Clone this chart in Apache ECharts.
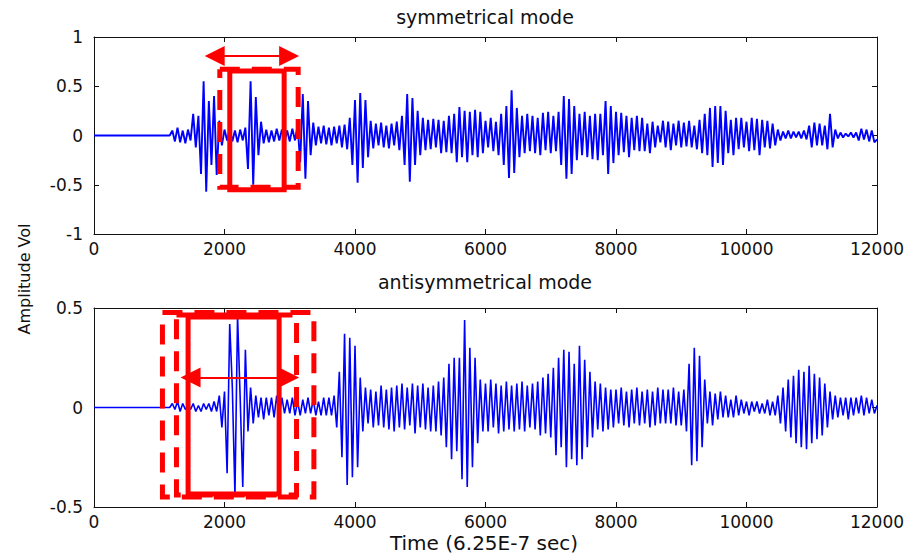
<!DOCTYPE html>
<html>
<head>
<meta charset="UTF-8">
<title>symmetrical / antisymmetrical mode</title>
<script src="https://cdn.jsdelivr.net/npm/echarts@6/dist/echarts.min.js"></script>
<style>
html, body { margin: 0; padding: 0; background: #fff; }
#main { width: 913px; height: 556px; }
</style>
</head>
<body>
<div id="main"></div>
<script>
// sampling of the read-off peaks: first value at t0, then one every dt samples
var t0 = 1160, dt = 40;
var xTicks = [0, 12000, 2000];

// symmetrical mode, peak values (10 per 400 samples from 1200)
var symVals = [0,
	0.05,-0.06,0.08,-0.07,0.05,-0.08,0.06,-0.05,0.22,-0.12,
	0.20,-0.39,0.55,-0.57,0.35,-0.30,0.40,-0.40,0.15,-0.10,
	0.06,-0.05,0.07,-0.06,0.05,-0.07,0.06,-0.05,0.08,-0.34,
	0.55,-0.50,0.39,-0.20,0.14,-0.08,0.06,-0.07,0.05,-0.06,
	0.07,-0.05,0.06,-0.07,0.05,-0.06,0.07,-0.05,0.10,-0.27,
	0.42,-0.44,0.35,-0.20,0.13,-0.10,0.09,-0.08,0.10,-0.09,
	0.08,-0.10,0.09,-0.08,0.10,-0.12,0.11,-0.14,0.18,-0.30,
	0.36,-0.48,0.43,-0.33,0.36,-0.22,0.15,-0.13,0.12,-0.10,
	0.13,-0.12,0.10,-0.13,0.12,-0.10,0.14,-0.15,0.20,-0.30,
	0.42,-0.47,0.38,-0.30,0.25,-0.20,0.18,-0.15,0.16,-0.14,
	0.17,-0.12,0.16,-0.18,0.15,-0.17,0.20,-0.18,0.22,-0.27,
	0.29,-0.22,0.25,-0.27,0.24,-0.20,0.26,-0.22,0.24,-0.18,
	0.15,-0.12,0.18,-0.16,0.14,-0.20,0.22,-0.30,0.30,-0.43,
	0.46,-0.38,0.28,-0.22,0.20,-0.18,0.22,-0.16,0.20,-0.18,
	0.18,-0.20,0.23,-0.15,0.24,-0.18,0.20,-0.16,0.24,-0.30,
	0.40,-0.44,0.37,-0.39,0.30,-0.25,0.22,-0.20,0.24,-0.22,
	0.20,-0.24,0.22,-0.25,0.22,-0.20,0.35,-0.39,0.30,-0.28,
	0.24,-0.20,0.23,-0.17,0.20,-0.22,0.18,-0.15,0.20,-0.16,
	0.18,-0.16,0.12,-0.18,0.14,-0.12,0.10,-0.07,0.15,-0.12,
	0.14,-0.15,0.12,-0.10,0.15,-0.12,0.13,-0.11,0.15,-0.12,
	0.10,-0.14,0.16,-0.18,0.22,-0.20,0.28,-0.32,0.30,-0.28,
	0.30,-0.30,0.25,-0.18,0.16,-0.20,0.18,-0.14,0.18,-0.12,
	0.14,-0.16,0.18,-0.15,0.17,-0.20,0.16,-0.12,0.15,-0.13,
	0.12,-0.10,0.06,-0.05,0.04,-0.03,0.05,-0.03,0.04,-0.02,
	0.04,-0.03,0.05,-0.04,0.10,-0.12,0.13,-0.10,0.12,-0.10,
	0.10,-0.14,0.22,-0.12,0.06,-0.03,0.03,-0.02,0.02,-0.01,
	0.03,-0.02,0.03,-0.05,0.07,-0.04,0.06,-0.06,0.05,-0.07,
	-0.04];

// antisymmetrical mode
var antiVals = [0,
	0.02,-0.01,0.03,-0.02,0.02,-0.01,0.01,-0.01,0.02,-0.02,
	0.01,-0.02,0.02,-0.01,0.02,-0.02,0.03,-0.02,0.06,-0.10,
	0.08,-0.33,0.42,0.10,-0.44,0.46,0.05,-0.40,0.29,-0.12,
	0.10,-0.08,0.06,-0.05,0.05,-0.06,0.05,-0.04,0.05,-0.05,
	0.06,-0.04,0.05,-0.03,0.04,-0.03,0.05,-0.04,0.03,-0.04,
	0.04,-0.03,0.05,-0.03,0.04,-0.04,0.03,-0.04,0.05,-0.04,
	0.05,-0.04,0.06,-0.10,0.18,-0.25,0.37,-0.39,0.35,-0.35,
	0.31,-0.30,0.15,-0.12,0.10,-0.08,0.09,-0.10,0.08,-0.09,
	0.11,-0.10,0.09,-0.11,0.10,-0.12,0.11,-0.10,0.12,-0.11,
	0.10,-0.09,0.12,-0.13,0.11,-0.10,0.12,-0.11,0.10,-0.12,
	0.11,-0.12,0.13,-0.14,0.15,-0.20,0.22,-0.26,0.25,-0.22,
	0.25,-0.36,0.44,-0.40,0.30,-0.30,0.25,-0.18,0.14,-0.12,
	0.12,-0.12,0.14,-0.10,0.12,-0.13,0.11,-0.12,0.13,-0.11,
	0.11,-0.12,0.12,-0.11,0.13,-0.12,0.11,-0.10,0.12,-0.11,
	0.13,-0.14,0.15,-0.13,0.17,-0.15,0.20,-0.24,0.25,-0.20,
	0.29,-0.30,0.28,-0.26,0.22,-0.29,0.31,-0.26,0.24,-0.20,
	0.18,-0.15,0.13,-0.11,0.12,-0.12,0.10,-0.11,0.09,-0.10,
	0.09,-0.08,0.10,-0.09,0.08,-0.10,0.09,-0.08,0.10,-0.09,
	0.08,-0.08,0.09,-0.10,0.08,-0.09,0.10,-0.08,0.09,-0.08,
	0.09,-0.08,0.10,-0.09,0.08,-0.09,0.09,-0.12,0.22,-0.29,
	0.30,-0.27,0.26,-0.20,0.14,-0.08,0.08,-0.09,0.07,-0.06,
	0.08,-0.05,0.06,-0.05,0.04,-0.05,0.06,-0.04,0.04,-0.03,
	0.03,-0.04,0.03,-0.02,0.03,-0.03,0.02,-0.03,0.04,-0.04,
	0.03,-0.04,0.06,-0.08,0.10,-0.12,0.14,-0.15,0.16,-0.18,
	0.19,-0.20,0.18,-0.21,0.21,-0.18,0.17,-0.16,0.15,-0.14,
	0.12,-0.10,0.08,-0.06,0.06,-0.05,0.05,-0.04,0.05,-0.06,
	0.05,-0.04,0.05,-0.03,0.06,-0.04,0.05,-0.03,0.04,-0.03,
	0.01];

// red annotations in data units: [xFrom, xTo, yTop, yBottom] / [xFrom, xTo, y]
var symBoxDashed = [1928, 3129, 0.672, -0.526];
var symBoxSolid = [2081, 2914, 0.654, -0.55];
var symArrow = [1850, 2990, 0.807];
var antiBoxDashedOuter = [1049, 3370, 0.477, -0.45];
var antiBoxDashedInner = [1264, 3104, 0.465, -0.44];
var antiBoxSolid = [1442, 2837, 0.455, -0.435];
var antiArrow = [1480, 2990, 0.151];

function toSeries(vals) {
	var out = [[0, 0]];
	for (var i = 0; i < vals.length; i++) {
		out.push([t0 + i * dt, vals[i]]);
	}
	return out;
}

function boxPath(b) {
	return [[b[0], b[2]], [b[1], b[2]], [b[1], b[3]], [b[0], b[3]], [b[0], b[2]]];
}

var FONT = '"DejaVu Sans", "Liberation Sans", sans-serif';
var INK = '#111';
var RED = '#ff0000';

function plainNum(v) {
	return String(v);
}

function xAxis(grid, pos) {
	return {
		type : 'value',
		gridIndex : grid,
		position : pos,
		min : xTicks[0],
		max : xTicks[1],
		interval : xTicks[2],
		axisLine : { onZero : false, lineStyle : { color : INK, width : 1 } },
		axisTick : { inside : true, length : 5, lineStyle : { color : INK } },
		axisLabel : { show : pos === 'bottom', color : INK, fontFamily : FONT, fontSize : 17, margin : 6, formatter : plainNum },
		splitLine : { show : false }
	};
}

function yAxis(grid, pos, lim) {
	return {
		type : 'value',
		gridIndex : grid,
		position : pos,
		min : -lim,
		max : lim,
		interval : 0.5,
		axisLine : { onZero : false, lineStyle : { color : INK, width : 1 } },
		axisTick : { inside : true, length : 5, lineStyle : { color : INK } },
		axisLabel : { show : pos === 'left', color : INK, fontFamily : FONT, fontSize : 17, margin : 11, formatter : plainNum },
		splitLine : { show : false }
	};
}

function boxSeries(b, xi, yi, dashed) {
	return {
		type : 'line',
		xAxisIndex : xi,
		yAxisIndex : yi,
		data : boxPath(b),
		symbol : 'none',
		clip : false,
		silent : true,
		lineStyle : { color : RED, width : 5, type : dashed ? [20, 12] : 'solid', join : 'miter', cap : 'butt' },
		z : 5
	};
}

function arrowSeries(a, xi, yi) {
	return {
		type : 'line',
		xAxisIndex : xi,
		yAxisIndex : yi,
		data : [],
		symbol : 'none',
		silent : true,
		markLine : {
			silent : true,
			symbol : ['triangle', 'triangle'],
			symbolSize : [20, 20],
			label : { show : false },
			lineStyle : { color : RED, width : 2, type : 'solid' },
			data : [[{ coord : [a[0], a[2]] }, { coord : [a[1], a[2]] }]]
		},
		z : 6
	};
}

var chart = echarts.init(document.getElementById('main'), null, { renderer : 'svg' });

var option = {
	animation : false,
	backgroundColor : '#fff',
	grid : [
		{ left : 94, right : 36, top : 37, height : 197, containLabel : false, outerBoundsMode : 'none' },
		{ left : 94, right : 36, top : 308, height : 199, containLabel : false, outerBoundsMode : 'none' }
	],
	xAxis : [ xAxis(0, 'bottom'), xAxis(0, 'top'), xAxis(1, 'bottom'), xAxis(1, 'top') ],
	yAxis : [ yAxis(0, 'left', 1), yAxis(0, 'right', 1), yAxis(1, 'left', 0.5), yAxis(1, 'right', 0.5) ],
	graphic : [
		{ type : 'text', x : 485, y : 17, style : { text : 'symmetrical mode', font : '19px ' + FONT, fill : INK, align : 'center', verticalAlign : 'middle' } },
		{ type : 'text', x : 485, y : 282, style : { text : 'antisymmetrical mode', font : '19px ' + FONT, fill : INK, align : 'center', verticalAlign : 'middle' } },
		{ type : 'text', x : 484, y : 543, style : { text : 'Time (6.25E-7 sec)', font : '20px ' + FONT, fill : INK, align : 'center', verticalAlign : 'middle' } },
		{ type : 'text', x : 24, y : 279, rotation : Math.PI / 2, style : { text : 'Amplitude Vol', font : '16px ' + FONT, fill : INK, align : 'center', verticalAlign : 'middle' } }
	],
	series : [
		{
			name : 'symmetrical mode',
			type : 'line',
			xAxisIndex : 0,
			yAxisIndex : 0,
			data : toSeries(symVals),
			symbol : 'none',
			lineStyle : { color : '#0000ff', width : 1.9 },
			z : 3
		},
		{
			name : 'antisymmetrical mode',
			type : 'line',
			xAxisIndex : 2,
			yAxisIndex : 2,
			data : toSeries(antiVals),
			symbol : 'none',
			lineStyle : { color : '#0000ff', width : 1.6 },
			z : 3
		},
		boxSeries(symBoxDashed, 0, 0, true),
		boxSeries(symBoxSolid, 0, 0, false),
		arrowSeries(symArrow, 0, 0),
		boxSeries(antiBoxDashedOuter, 2, 2, true),
		boxSeries(antiBoxDashedInner, 2, 2, true),
		boxSeries(antiBoxSolid, 2, 2, false),
		arrowSeries(antiArrow, 2, 2)
	]
};
chart.setOption(option);
</script>
</body>
</html>
